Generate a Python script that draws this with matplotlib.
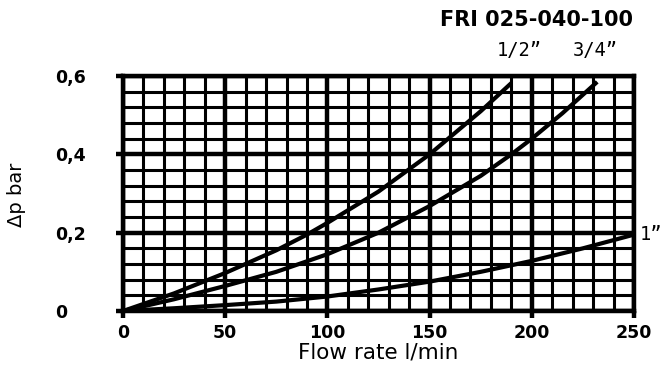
import matplotlib
matplotlib.use("Agg")
import matplotlib.pyplot as plt
from matplotlib.ticker import MultipleLocator, FixedLocator

# Data
x_half = [0, 25, 50, 75, 90, 100, 125, 150, 175, 190]
y_half = [0, 0.045, 0.097, 0.155, 0.195, 0.225, 0.305, 0.40, 0.51, 0.582]

x_34 = [0, 25, 50, 75, 100, 125, 150, 175, 190, 200, 215, 232]
y_34 = [0, 0.03, 0.064, 0.10, 0.145, 0.20, 0.268, 0.345, 0.40, 0.44, 0.505, 0.585]

x_1 = [0, 25, 50, 75, 100, 125, 150, 175, 200, 225, 250]
y_1 = [0, 0.007, 0.015, 0.024, 0.037, 0.055, 0.075, 0.10, 0.128, 0.16, 0.195]

x_ticks = [0, 50, 100, 150, 200, 250]
x_ticklabels = ["0", "50", "100", "150", "200", "250"]
y_ticks = [0, 0.2, 0.4, 0.6]
y_ticklabels = ["0", "0,2", "0,4", "0,6"]

title = "FRI 025-040-100"
labels = ['1/2\u201d', '3/4\u201d', '1\u201d']

W, H = 669, 376
fig = plt.figure(figsize=(W / 100, H / 100), dpi=100)
ax = fig.add_axes([123 / W, 65 / H, 511 / W, 235 / H])

sans = ['DejaVu Sans']

ax.set_xlim(0, 250)
ax.set_ylim(0, 0.6)
ax.xaxis.set_major_locator(FixedLocator(x_ticks))
ax.yaxis.set_major_locator(FixedLocator(y_ticks))
ax.xaxis.set_minor_locator(MultipleLocator(10))
ax.yaxis.set_minor_locator(MultipleLocator(0.04))

major_lw = 3.2
minor_lw = 2.2
ax.grid(which='major', color='black', lw=major_lw)
ax.grid(which='minor', color='black', lw=minor_lw)
ax.set_axisbelow(True)
for s in ax.spines.values():
    s.set_linewidth(major_lw)

ax.tick_params(which='major', direction='out', length=5, width=major_lw, color='black')
ax.tick_params(which='minor', length=0)
ax.tick_params(axis='x', pad=4)
ax.tick_params(axis='y', pad=44)

ax.set_xticklabels(x_ticklabels, fontsize=12.5, fontweight='bold', family=sans)
ax.set_yticklabels(y_ticklabels, fontsize=12.5, fontweight='bold', family=sans)
for t in ax.get_yticklabels():
    t.set_horizontalalignment('left')

lw = 3.0
for xs, ys in ((x_half, y_half), (x_34, y_34), (x_1, y_1)):
    ax.plot(xs, ys, color='black', lw=lw, zorder=5, clip_on=False,
            solid_capstyle='butt', solid_joinstyle='round')

ax.set_xlabel("Flow rate l/min", fontsize=15.5, family=sans, labelpad=1)
fig.text(17 / W, 1 - 195 / H, "\u0394p bar", rotation=90, fontsize=14, ha='center', va='center',
         family=sans)

fig.text(633 / W, 1 - 20 / H, title, fontsize=15, fontweight='bold', ha='right', va='center',
         family=sans)

mono = ['DejaVu Sans Mono']
fig.text(519 / W, 1 - 51 / H, labels[0], fontsize=13.5, ha='center', va='center', family=mono)
fig.text(595 / W, 1 - 51 / H, labels[1], fontsize=13.5, ha='center', va='center', family=mono)
fig.text(640 / W, 1 - 235 / H, labels[2], fontsize=13.5, ha='left', va='center', family=mono)

fig.savefig("out.png", dpi=100)
